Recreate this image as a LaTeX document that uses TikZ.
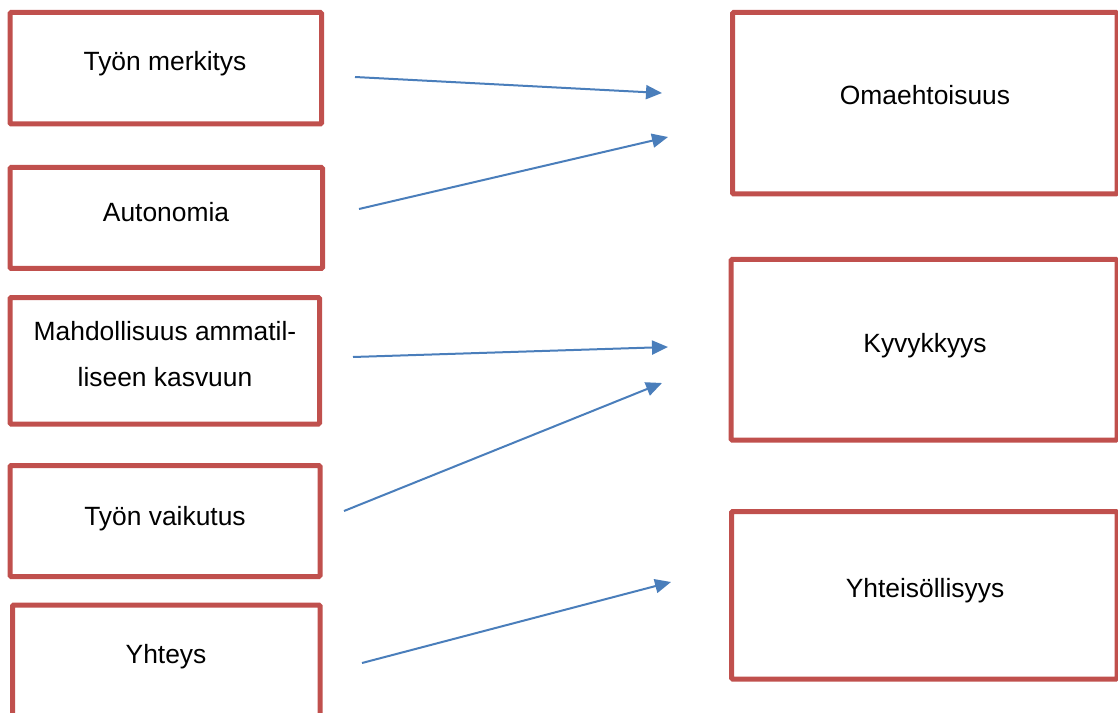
\documentclass[tikz,border=0pt]{standalone}
\usepackage{fontspec}
\setmainfont{Liberation Sans}
\usetikzlibrary{arrows.meta}
\definecolor{boxred}{HTML}{C0504D}
\definecolor{arrblue}{HTML}{4A7EBB}
\begin{document}
\begin{tikzpicture}[x=0.75pt,y=-0.75pt,
  rbox/.style={draw=boxred,line width=3.75pt,rounded corners=0.8pt,inner sep=0pt,fill=none},
  lbl/.style={inner sep=0pt,anchor=base,font=\fontsize{19.8}{34.5}\selectfont,align=center},
  conn/.style={draw=arrblue,line width=1.5pt,-{Triangle[length=12pt,width=10.5pt]}}]
\useasboundingbox (0,0) rectangle (1118,713);
\begin{scope}
\clip (0,0) rectangle (1118,713);
% left boxes
\node[rbox,minimum width=311.5*0.75pt,minimum height=111.5*0.75pt] (b1) at (165.75,68.25) {};
\node[rbox,minimum width=312.5*0.75pt,minimum height=101*0.75pt] (b2) at (166.25,218) {};
\node[rbox,minimum width=309.5*0.75pt,minimum height=126.5*0.75pt] (b3) at (164.75,360.75) {};
\node[rbox,minimum width=310*0.75pt,minimum height=111*0.75pt] (b4) at (165,521) {};
\node[rbox,minimum width=307.5*0.75pt,minimum height=155*0.75pt] (b5) at (166.25,682.5) {};
% right boxes
\node[rbox,minimum width=384.5*0.75pt,minimum height=181.5*0.75pt] (r1) at (924.75,103.25) {};
\node[rbox,minimum width=386*0.75pt,minimum height=180.5*0.75pt] (r2) at (924,349.75) {};
\node[rbox,minimum width=385.5*0.75pt,minimum height=167.5*0.75pt] (r3) at (924.25,595.25) {};
\end{scope}
% labels
\node[lbl] (t1) at (165,71) {Työn merkitys};
\node[lbl] (t2) at (166,221.5) {Autonomia};
\node[lbl] (t3) at (165,386) {Mahdollisuus ammatil-\\liseen kasvuun};
\node[lbl] (t4) at (165,525.5) {Työn vaikutus};
\node[lbl] (t5) at (166,663.5) {Yhteys};
\node[lbl] (u1) at (925,105) {Omaehtoisuus};
\node[lbl] (u2) at (925,352.5) {Kyvykkyys};
\node[lbl] (u3) at (925,597) {Yhteisöllisyys};
% connector ends
\coordinate (s1) at (355,77);  \coordinate (e1) at (662,93);
\coordinate (s2) at (359,209); \coordinate (e2) at (668,137);
\coordinate (s3) at (353,357); \coordinate (e3) at (668,347);
\coordinate (s4) at (344,511); \coordinate (e4) at (662,383);
\coordinate (s5) at (362,663); \coordinate (e5) at (671,582);
\draw[conn] (s1) -- (e1);
\draw[conn] (s2) -- (e2);
\draw[conn] (s3) -- (e3);
\draw[conn] (s4) -- (e4);
\draw[conn] (s5) -- (e5);
\end{tikzpicture}
\end{document}
